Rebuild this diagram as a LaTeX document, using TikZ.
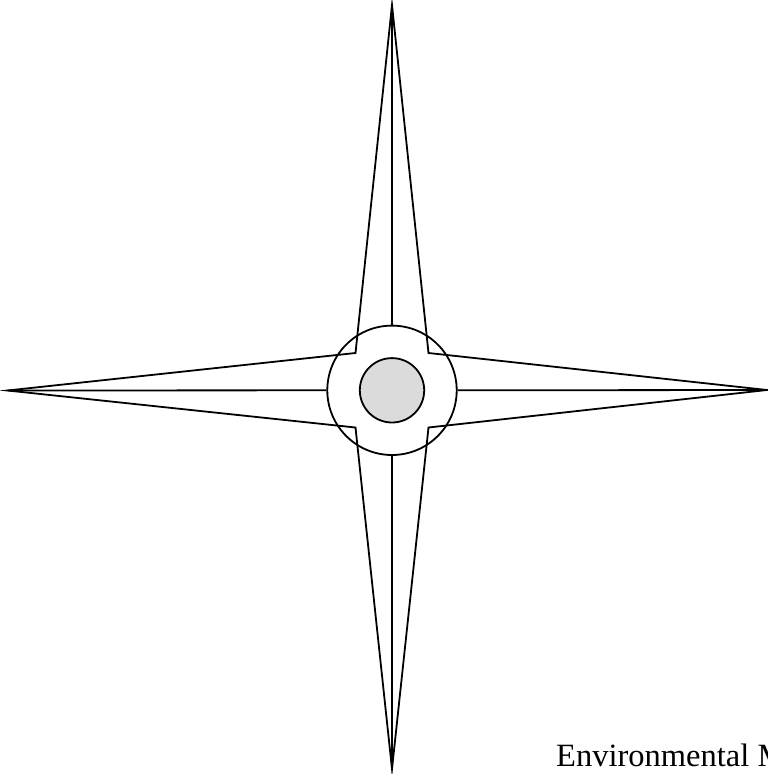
\documentclass[tikz,border=0pt]{standalone}
\usepackage{fontspec}
\setmainfont{Liberation Serif}
\begin{document}
\begin{tikzpicture}[x=1pt,y=-1pt,
  starline/.style={line width=1.8pt, line join=miter},
  ring/.style={line width=1.8pt},
  hub/.style={line width=1.8pt, fill=black!14}]
\useasboundingbox (0,0) rectangle (768,774);
\clip (0,0) rectangle (768,774);
% tips and inner corners
\coordinate (N) at (392,5);
\coordinate (S) at (392,769);
\coordinate (W) at (7.5,390.5);
\coordinate (E) at (767,390);
\coordinate (NE) at (428.5,353);
\coordinate (SE) at (428.5,427.5);
\coordinate (SW) at (355.5,427.5);
\coordinate (NW) at (355.5,353);
\coordinate (C) at (392,390.3);
% star outline
\draw[starline] (N) -- (NE) -- (E) -- (SE) -- (S) -- (SW) -- (W) -- (NW) -- cycle;
% outer ring and hub
\node[ring, draw, circle, minimum size=129.4pt, inner sep=0pt] (ringnode) at (C) {};
\node[hub, draw, circle, minimum size=64.4pt, inner sep=0pt] (hubnode) at (C) {};
% centre lines of the arms
\draw[starline] (N) -- (ringnode.north);
\draw[starline] (ringnode.south) -- (S);
\draw[starline] (W) -- (ringnode.west);
\draw[starline] (ringnode.east) -- (E);
% caption
\node[anchor=base west, inner sep=0pt, font=\fontsize{32.5}{38}\selectfont] (cap) at (556,766.5) {Environmental M};
\end{tikzpicture}
\end{document}
